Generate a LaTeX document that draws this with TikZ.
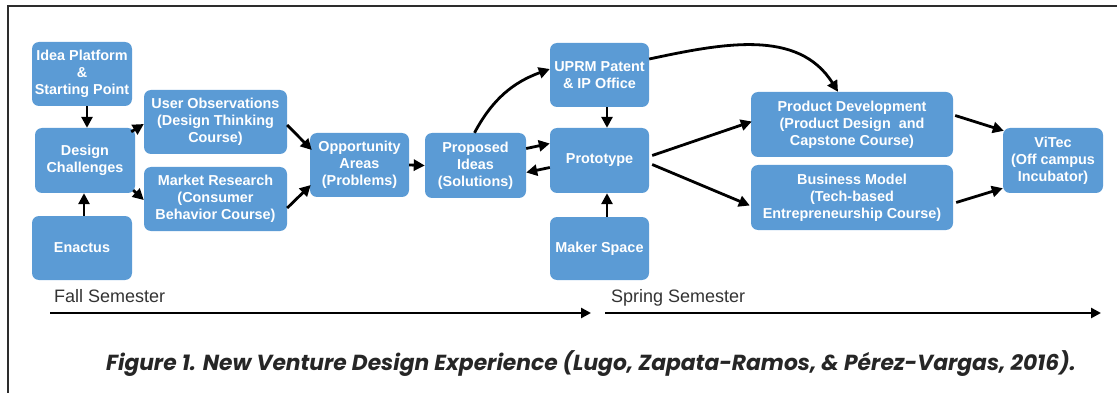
\documentclass[tikz,border=0pt]{standalone}
\usepackage{fontspec}
\setmainfont{Liberation Sans}
\newfontfamily\capfont{Poppins}
\usetikzlibrary{arrows.meta,calc}
\definecolor{boxblue}{RGB}{91,155,213}
\definecolor{framegray}{RGB}{45,45,45}
\tikzset{
  stage/.style={fill=boxblue, draw=none, rounded corners=7pt, text=white,
    font=\fontsize{14.4}{17}\selectfont\bfseries, align=center, inner sep=2pt},
  flow/.style={line width=2.8pt, -{Triangle[length=11pt,width=11pt]}},
  timeline/.style={line width=2.6pt, -{Triangle[length=10pt,width=10pt]}},
  semlabel/.style={font=\fontsize{18}{21}\selectfont, text=black!80, inner sep=0pt, anchor=base west},
}
\begin{document}
\begin{tikzpicture}[x=1pt,y=-1pt]
\useasboundingbox (0,0) rectangle (1117,393);
% outer frame (top and left rules)
\draw[framegray, line width=1.2pt] (8,393) -- (8,6) -- (1117,6);

% fall semester stages
\node[stage, minimum width=100pt, minimum height=64pt] (idea) at (82,74) {Idea Platform\\\&\\Starting Point};
\node[stage, minimum width=100pt, minimum height=65pt] (dc) at (85,160.5) {Design\\Challenges};
\node[stage, minimum width=100pt, minimum height=64pt] (en) at (82,248) {Enactus};
\node[stage, minimum width=143pt, minimum height=64pt] (uo) at (215.5,122) {User Observations\\(Design Thinking\\Course)};
\node[stage, minimum width=143pt, minimum height=64pt] (mr) at (215.5,199) {Market Research\\(Consumer\\Behavior Course)};
\node[stage, minimum width=99pt, minimum height=64pt] (oa) at (359.5,165) {Opportunity\\Areas\\(Problems)};
\node[stage, minimum width=101pt, minimum height=65pt] (pi) at (475.5,165.5) {Proposed\\Ideas\\(Solutions)};

% spring semester stages
\node[stage, minimum width=99pt, minimum height=64pt] (up) at (599.5,75) {UPRM Patent\\\& IP Office};
\node[stage, minimum width=99pt, minimum height=65pt] (pr) at (599.5,160.5) {Prototype};
\node[stage, minimum width=99pt, minimum height=63pt] (ms) at (599.5,248.5) {Maker Space};
\node[stage, minimum width=202pt, minimum height=65pt] (pd) at (852,124.5) {Product Development\\(Product Design\ \ and\\Capstone Course)};
\node[stage, minimum width=202pt, minimum height=65pt] (bm) at (852,197.5) {Business Model\\(Tech-based\\Entrepreneurship Course)};
\node[stage, minimum width=100pt, minimum height=65pt] (vi) at (1053,160.5) {ViTec\\(Off campus\\Incubator)};

% connectors
\draw[flow] ([xshift=5pt]idea.south) -- ([xshift=2pt]dc.north);
\draw[flow] ([xshift=2pt]en.north) -- ([xshift=-1pt]dc.south);
\draw[flow] ([xshift=-4pt,yshift=-4pt]dc.north east) -- ([yshift=-2pt]uo.west);
\draw[flow] ([xshift=-2pt,yshift=3pt]dc.south east) -- ([yshift=-1pt]mr.west);
\draw[flow] ([yshift=-3pt]uo.east) -- ([xshift=2pt,yshift=15pt]oa.west);
\draw[flow] ([yshift=-9pt]mr.east) -- ([xshift=1pt,yshift=-20pt]oa.west);
\draw[flow] (oa.east) -- (pi.west);
\draw[flow] ([yshift=17pt]pi.east) -- ([yshift=17pt]pr.west);
\draw[flow] ([yshift=-7pt]pr.west) -- ([yshift=-7pt]pi.east);
\draw[flow] ([xshift=-1pt]pi.north) to[out=62,in=200] ([yshift=6pt]up.west);
\draw[flow] ([xshift=7.5pt]up.south) -- ([xshift=7.5pt]pr.north);
\draw[flow] ([xshift=7.5pt]ms.north) -- ([xshift=7.5pt]pr.south);
\draw[flow] ([yshift=16pt]up.east) to[out=12,in=122] ([xshift=-14pt]pd.north);
\draw[flow] ([xshift=3pt,yshift=5pt]pr.east) -- ([xshift=1pt,yshift=3pt]pd.west);
\draw[flow] ([xshift=3pt,yshift=-4pt]pr.east) -- ([xshift=-1pt,yshift=-8pt]bm.west);
\draw[flow] ([xshift=2pt,yshift=9pt]pd.east) -- ([xshift=1pt,yshift=-3pt]vi.north west);
\draw[flow] ([xshift=3pt,yshift=-5pt]bm.east) -- ([yshift=5pt]vi.south west);

% semester timelines
\node[semlabel] (fall) at (54,302) {Fall Semester};
\node[semlabel] (spring) at (611,302) {Spring Semester};
\coordinate (fallA) at (50,313);
\coordinate (fallB) at (591,313);
\coordinate (springA) at (605,313);
\coordinate (springB) at (1101,313);
\draw[timeline] (fallA) -- (fallB);
\draw[timeline] (springA) -- (springB);

% caption
\node[font=\capfont\fontsize{21.8}{25}\selectfont\bfseries\itshape, text=black!85, inner sep=0pt] (caption) at (591,364)
  {Figure 1. New Venture Design Experience (Lugo, Zapata-Ramos, \& Pérez-Vargas, 2016).};
\end{tikzpicture}
\end{document}
